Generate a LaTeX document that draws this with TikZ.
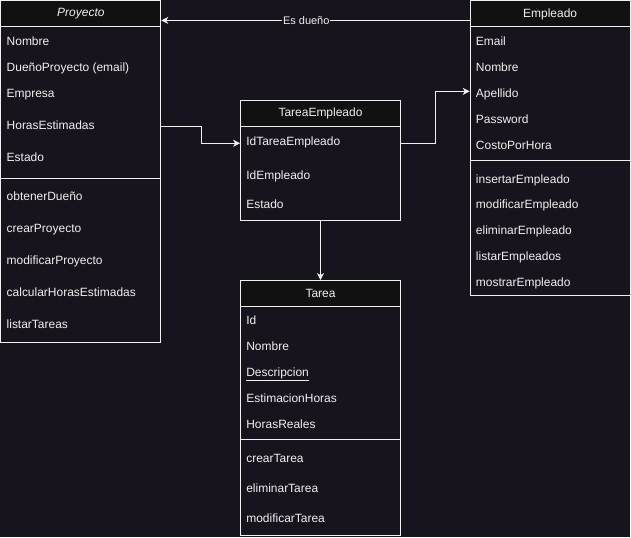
\documentclass[tikz,border=0pt]{standalone}
\usepackage{fontspec}
\setmainfont{Liberation Sans}
\usetikzlibrary{arrows.meta}
\definecolor{canvasbg}{RGB}{24,20,29}
\definecolor{headbg}{RGB}{17,17,17}
\definecolor{inkwhite}{RGB}{240,240,240}
\tikzset{
  classbox/.style={draw=inkwhite, line width=1pt, fill=canvasbg, anchor=north west, minimum width=160pt, inner sep=0pt},
  classhead/.style={draw=inkwhite, line width=1pt, fill=headbg, anchor=north west, minimum width=160pt, minimum height=26pt, inner sep=0pt, text=inkwhite, font=\fontsize{12}{14}\selectfont},
  member/.style={anchor=west, inner sep=0pt, yshift=-1pt, text height=8.6pt, text depth=0pt, text=inkwhite, font=\fontsize{12}{14}\selectfont},
  sepline/.style={draw=inkwhite, line width=1pt},
  link/.style={draw=inkwhite, line width=1pt, -{Stealth[length=7pt,width=7pt,inset=2pt]}},
  linklabel/.style={fill=canvasbg, inner sep=1pt, text=inkwhite, font=\fontsize{11}{13}\selectfont}
}
\begin{document}
\begin{tikzpicture}[x=1pt, y=-1pt]
  \fill[canvasbg] (0,0) rectangle (631,538);

  % Proyecto
  \node[classbox, minimum height=342pt] (proyecto) at (0.5,0.5) {};
  \node[classhead] (proyectoHead) at (0.5,0.5) {\textit{Proyecto}};
  \draw[sepline] (proyecto.west |- 0,178.5) -- (proyecto.east |- 0,178.5);
  \foreach \t/\y in {Nombre/40, DueñoProyecto (email)/66, Empresa/92, HorasEstimadas/124, Estado/156,
                     obtenerDueño/196, crearProyecto/228, modificarProyecto/260, calcularHorasEstimadas/292, listarTareas/324} {
    \node[member] (proy\y) at (6.5,\y) {\t};
  }

  % TareaEmpleado
  \node[classbox, minimum height=120pt] (tareaempleado) at (240.5,100.5) {};
  \node[classhead] (tareaempleadoHead) at (240.5,100.5) {TareaEmpleado};
  \foreach \t/\y in {IdTareaEmpleado/140, IdEmpleado/174, Estado/204} {
    \node[member] (te\y) at (246.5,\y) {\t};
  }

  % Empleado
  \node[classbox, minimum height=295pt] (empleado) at (470.5,0.5) {};
  \node[classhead] (empleadoHead) at (470.5,0.5) {Empleado};
  \draw[sepline] (empleado.west |- 0,160.5) -- (empleado.east |- 0,160.5);
  \foreach \t/\y in {Email/40, Nombre/66, Apellido/92, Password/118, CostoPorHora/144,
                     insertarEmpleado/178, modificarEmpleado/204, eliminarEmpleado/230, listarEmpleados/256, mostrarEmpleado/282} {
    \node[member] (emp\y) at (476.5,\y) {\t};
  }

  % Tarea
  \node[classbox, minimum height=255pt] (tarea) at (240.5,280.5) {};
  \node[classhead] (tareaHead) at (240.5,280.5) {Tarea};
  \draw[sepline] (tarea.west |- 0,440.5) -- (tarea.east |- 0,440.5);
  \foreach \t/\y in {Id/320, Nombre/346, {\underline{Descripcion}}/372, EstimacionHoras/398, HorasReales/424,
                     crearTarea/458, eliminarTarea/488, modificarTarea/518} {
    \node[member] (tar\y) at (246.5,\y) {\t};
  }

  % Relaciones
  \draw[link] ([yshift=-20pt]empleado.north west) -- node[linklabel, pos=0.53] (duenoLabel) {Es dueño} ([yshift=-20pt]proyecto.north east);
  \draw[link] (proyecto.east |- 0,126.5) -- ++(40,0) |- (tareaempleado.west |- 0,143.5);
  \draw[link] (tareaempleado.east |- 0,143.5) -- ++(35,0) |- (empleado.west |- 0,91.5);
  \draw[link] (tareaempleado.south) -- (tarea.north);
\end{tikzpicture}
\end{document}
